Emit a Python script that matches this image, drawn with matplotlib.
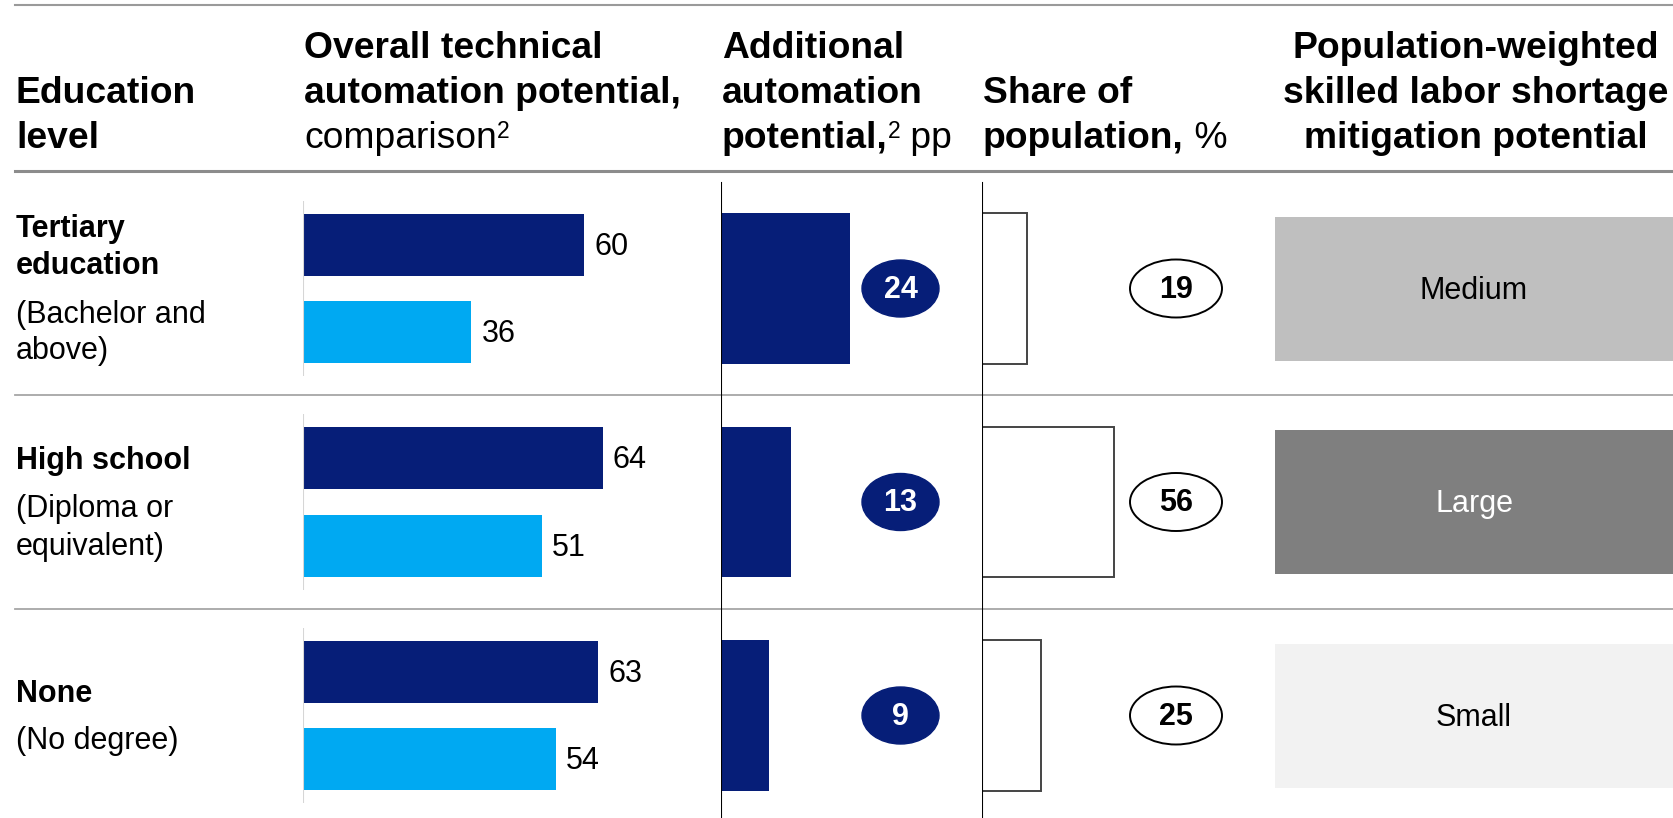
import matplotlib.pyplot as plt
from matplotlib.patches import Ellipse

plt.rcParams["font.family"] = ["Liberation Sans", "DejaVu Sans"]

# data
EDUCATION = ["Tertiary\neducation", "High school", "None"]
DETAILS = ["(Bachelor and\nabove)", "(Diploma or\nequivalent)", "(No degree)"]
POTENTIAL_DARK = [60, 64, 63]
POTENTIAL_LIGHT = [36, 51, 54]
ADDITIONAL = [24, 13, 9]
SHARE = [19, 56, 25]
MITIGATION = ["Medium", "Large", "Small"]
MITIGATION_COLORS = {"Small": "#F2F2F2", "Medium": "#BFBFBF", "Large": "#7F7F7F"}
MITIGATION_TEXT = {"Small": "black", "Medium": "black", "Large": "white"}

DARK = "#061E78"
LIGHT = "#00A9F2"

W, H = 1673, 818
HEAD_LINE = 171
ROW0 = 288.5
PITCH = 213.5
HEAD_SIZE = 26.8
BODY_SIZE = 22
SUP_SIZE = 16.5

fig = plt.figure(figsize=(W / 100, H / 100), dpi=100)
renderer = fig.canvas.get_renderer()

bg = fig.add_axes([0, 0, 1, 1])
bg.set_xlim(0, W)
bg.set_ylim(H, 0)
bg.axis("off")


def col_axes(left, right):
    ax = fig.add_axes([left / W, 0, (right - left) / W, 1 - HEAD_LINE / H])
    ax.set_ylim((H - ROW0) / PITCH, (HEAD_LINE - ROW0) / PITCH)
    ax.axis("off")
    return ax


def runs(x, y, parts):
    # parts: (text, weight, size, raise_px)
    for text, weight, size, lift in parts:
        t = bg.text(x, y - lift, text, fontsize=size, fontweight=weight,
                    va="baseline", ha="left")
        x += t.get_window_extent(renderer).width


# horizontal rules
bg.plot([15, W], [5, 5], color="#9A9A9A", lw=1.5)
bg.plot([15, W], [HEAD_LINE, HEAD_LINE], color="#8C8C8C", lw=2.2)
for i in range(1, len(EDUCATION)):
    yy = ROW0 + PITCH * (i - 0.5)
    bg.plot([15, W], [yy, yy], color="#A6A6A6", lw=1.3)

# headers
base = [58, 103, 148]
runs(16, base[1], [("Education", "bold", HEAD_SIZE, 0)])
runs(16, base[2], [("level", "bold", HEAD_SIZE, 0)])
runs(304, base[0], [("Overall technical", "bold", HEAD_SIZE, 0)])
runs(304, base[1], [("automation potential,", "bold", HEAD_SIZE, 0)])
runs(304, base[2], [("comparison", "normal", HEAD_SIZE, 0),
                    ("2", "normal", SUP_SIZE, 10)])
runs(722, base[0], [("Additional", "bold", HEAD_SIZE, 0)])
runs(722, base[1], [("automation", "bold", HEAD_SIZE, 0)])
runs(722, base[2], [("potential,", "bold", HEAD_SIZE, 0),
                    ("2", "normal", SUP_SIZE, 10),
                    (" pp", "normal", HEAD_SIZE, 0)])
runs(983, base[1], [("Share of", "bold", HEAD_SIZE, 0)])
runs(983, base[2], [("population,", "bold", HEAD_SIZE, 0),
                    (" %", "normal", HEAD_SIZE, 0)])
for yb, line in zip(base, ["Population-weighted", "skilled labor shortage",
                           "mitigation potential"]):
    bg.text(1476, yb, line, fontsize=HEAD_SIZE, fontweight="bold",
            ha="center", va="baseline")

# row labels
for i, (name, detail) in enumerate(zip(EDUCATION, DETAILS)):
    lines = []
    offs = []
    y = 0
    for k, line in enumerate(name.split("\n")):
        if k:
            y += 37
        lines.append((line, "bold"))
        offs.append(y)
    for k, line in enumerate(detail.split("\n")):
        y += 48 if k == 0 else 37
        lines.append((line, "normal"))
        offs.append(y)
    center = ROW0 + PITCH * i
    b0 = center + 10 - (offs[0] + offs[-1]) / 2
    for (line, weight), o in zip(lines, offs):
        bg.text(16, b0 + o, line, fontsize=BODY_SIZE, fontweight=weight,
                va="baseline", ha="left")

rows = list(range(len(EDUCATION)))

# column 1: overall potential
ax1 = col_axes(303, 700)
ax1.set_xlim(0, (700 - 303) / 4.68)
ax1.vlines([0] * len(rows), [r - 0.41 for r in rows], [r + 0.41 for r in rows],
           color="#D6D6D6", lw=1.5)
ax1.barh([r - 0.205 for r in rows], POTENTIAL_DARK, height=0.29, color=DARK)
ax1.barh([r + 0.205 for r in rows], POTENTIAL_LIGHT, height=0.29, color=LIGHT)
for r, a, b in zip(rows, POTENTIAL_DARK, POTENTIAL_LIGHT):
    ax1.annotate(str(a), (a, r - 0.205), xytext=(7.5, -1.5),
                 textcoords="offset points", va="center", fontsize=BODY_SIZE)
    ax1.annotate(str(b), (b, r + 0.205), xytext=(7.5, -1.5),
                 textcoords="offset points", va="center", fontsize=BODY_SIZE)

# column 2: additional potential
ax2 = col_axes(721, 980)
scale2 = 5.38
ax2.set_xlim(0, (980 - 721) / scale2)
ax2.barh(rows, ADDITIONAL, height=0.703, color=DARK)
ax2.axvline(0, ymin=0, ymax=1 - 12 / (H - HEAD_LINE), color="black", lw=1.5)
ex2 = (900.5 - 721) / scale2
for r, v in zip(rows, ADDITIONAL):
    ax2.add_patch(Ellipse((ex2, r), 77 / scale2, 57 / PITCH, color=DARK))
    ax2.text(ex2, r + 0.006, str(v), color="white", fontweight="bold",
             fontsize=BODY_SIZE, ha="center", va="center")

# column 3: share of population
ax3 = col_axes(982, 1275)
scale3 = 2.36
ax3.set_xlim(0, (1275 - 982) / scale3)
ax3.barh(rows, SHARE, height=0.707, facecolor="white", edgecolor="#444444",
         lw=1.4)
ax3.axvline(0, ymin=0, ymax=1 - 12 / (H - HEAD_LINE), color="black", lw=1.5)
ex3 = (1176 - 982) / scale3
for r, v in zip(rows, SHARE):
    ax3.add_patch(Ellipse((ex3, r), 92 / scale3, 58 / PITCH,
                          facecolor="white", edgecolor="black", lw=1.4))
    ax3.text(ex3, r + 0.006, str(v), color="black", fontweight="bold",
             fontsize=BODY_SIZE, ha="center", va="center")

# column 4: mitigation potential
ax4 = col_axes(1275, W)
ax4.set_xlim(0, 1)
ax4.barh(rows, [1] * len(rows), height=144 / PITCH,
         color=[MITIGATION_COLORS[m] for m in MITIGATION])
for r, m in zip(rows, MITIGATION):
    ax4.text(0.5, r + 0.01, m, color=MITIGATION_TEXT[m], fontsize=BODY_SIZE,
             ha="center", va="center")

fig.savefig("out.png", dpi=100)
plt.close(fig)
